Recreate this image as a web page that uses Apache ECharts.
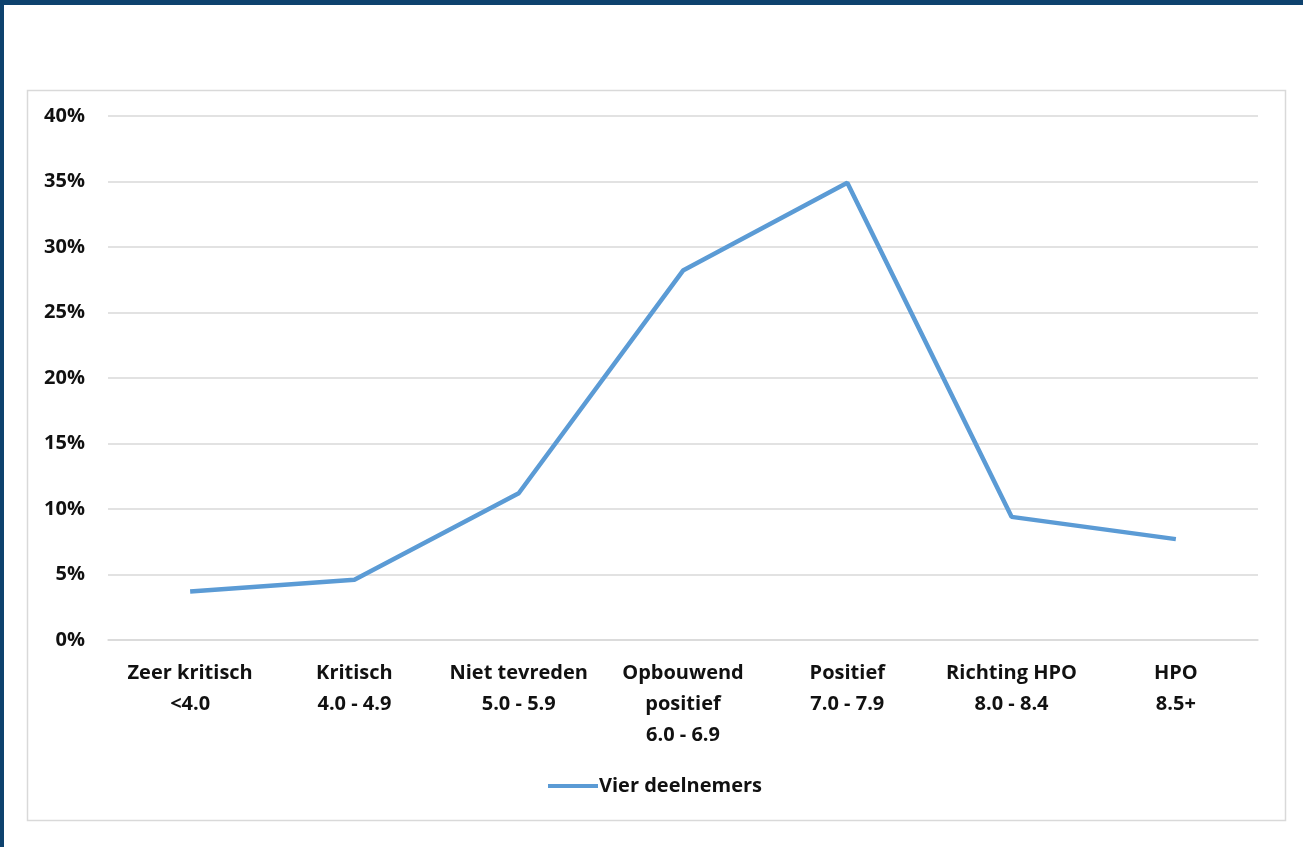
<!DOCTYPE html>
<html>
<head>
<meta charset="utf-8">
<script src="https://cdn.jsdelivr.net/npm/echarts@6/dist/echarts.min.js"></script>
<style>
html, body { margin: 0; padding: 0; background: #ffffff; }
#main { width: 1303px; height: 847px; }
</style>
</head>
<body>
<div id="main"></div>
<script>
var categories = ['Zeer kritisch\n<4.0', 'Kritisch\n4.0 - 4.9', 'Niet tevreden\n5.0 - 5.9', 'Opbouwend\npositief\n6.0 - 6.9', 'Positief\n7.0 - 7.9', 'Richting HPO\n8.0 - 8.4', 'HPO\n8.5+'];
var seriesName = 'Vier deelnemers';
var values = [3.7, 4.6, 11.2, 28.2, 34.9, 9.4, 7.7];
var yTicks = [0, 5, 10, 15, 20, 25, 30, 35, 40];

var fontFam = '"Open Sans", sans-serif';

// 基于准备好的dom，初始化echarts实例
var myChart = echarts.init(document.getElementById('main'));

var option = {
    animation: false,
    backgroundColor: '#ffffff',
    color: ['#5b9bd5'],
    graphic: [
        // 图表外框
        { type: 'rect', shape: { x: 27.5, y: 90.5, width: 1258, height: 730 }, style: { fill: '#ffffff', stroke: '#d9d9d9', lineWidth: 1.5 }, z: -10 },
        // 深蓝边框
        { type: 'rect', shape: { x: 0, y: 0, width: 1303, height: 5 }, style: { fill: '#0e426e' } },
        { type: 'rect', shape: { x: 0, y: 0, width: 4, height: 847 }, style: { fill: '#0e426e' } }
    ],
    grid: {
        left: 108,
        right: 45,
        top: 116,
        bottom: 207
    },
    legend: {
        left: 548,
        top: 776,
        padding: 0,
        itemWidth: 50,
        itemHeight: 4,
        itemGap: 2,
        data: [{ name: seriesName, icon: 'rect' }],
        textStyle: {
            fontFamily: fontFam,
            fontWeight: 'bold',
            fontSize: 20,
            color: '#111111',
            padding: [0, 0, 0, -4]
        }
    },
    xAxis: {
        type: 'category',
        data: categories,
        boundaryGap: true,
        axisLine: { lineStyle: { color: '#d9d9d9', width: 1.5 } },
        axisTick: { show: false },
        axisLabel: {
            interval: 0,
            margin: 18,
            lineHeight: 31,
            fontFamily: fontFam,
            fontWeight: 'bold',
            fontSize: 20,
            color: '#111111'
        }
    },
    yAxis: {
        type: 'value',
        min: yTicks[0],
        max: yTicks[yTicks.length - 1],
        interval: 5,
        axisLine: { show: false },
        axisTick: { show: false },
        splitLine: { lineStyle: { color: '#d9d9d9', width: 1.5 } },
        axisLabel: {
            margin: 23,
            fontFamily: fontFam,
            fontWeight: 'bold',
            fontSize: 20,
            color: '#111111',
            formatter: '{value}%'
        }
    },
    series: [
        {
            name: seriesName,
            type: 'line',
            data: values,
            symbol: 'none',
            lineStyle: { width: 4.5, color: '#5b9bd5' }
        }
    ]
};

myChart.setOption(option, true);
</script>
</body>
</html>
